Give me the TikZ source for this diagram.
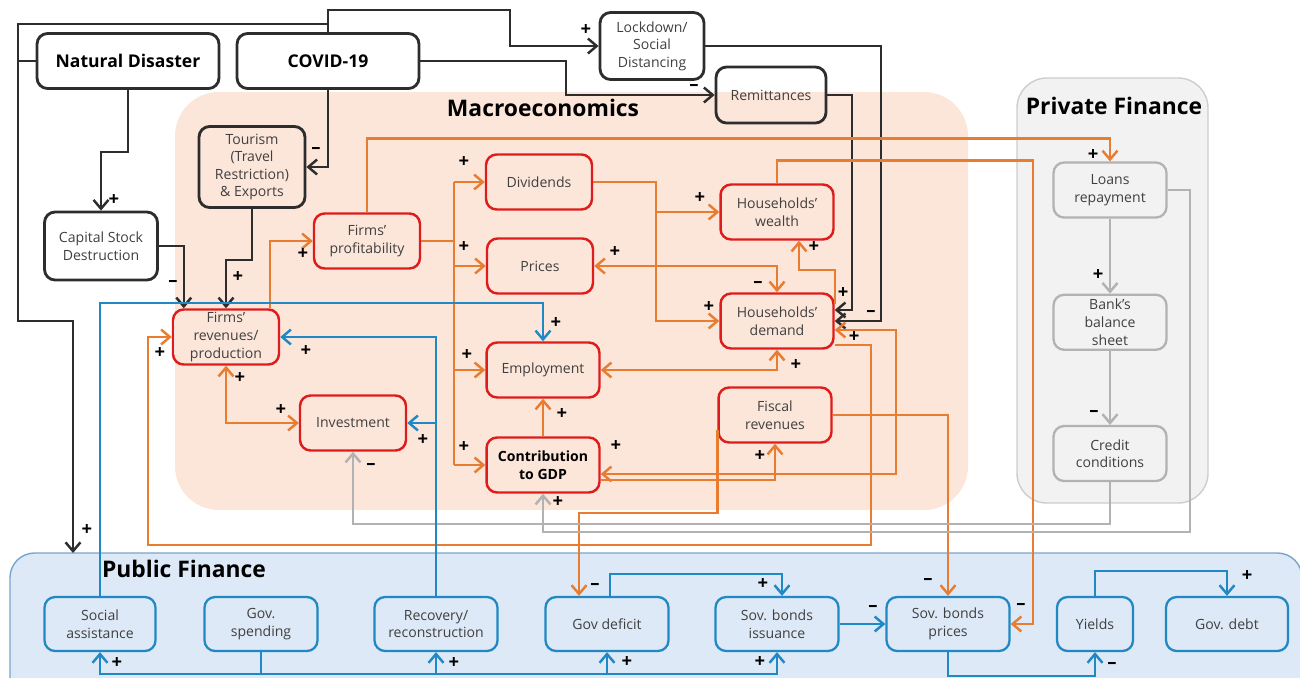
\documentclass[tikz,border=0pt]{standalone}
\usepackage{fontspec}
\setmainfont{Open Sans}
\usetikzlibrary{positioning, calc, arrows.meta}
\definecolor{cdInk}{RGB}{45,45,45}
\definecolor{cdText}{RGB}{64,64,64}
\definecolor{cdOrange}{RGB}{232,125,50}
\definecolor{cdRed}{RGB}{222,28,28}
\definecolor{cdBlue}{RGB}{32,136,196}
\definecolor{cdGrey}{RGB}{178,178,178}
\definecolor{cdPeach}{RGB}{252,230,218}
\definecolor{cdSky}{RGB}{221,233,246}
\definecolor{cdSkyLine}{RGB}{120,165,205}
\definecolor{cdMist}{RGB}{242,242,242}
\definecolor{cdMistLine}{RGB}{205,205,205}

\begin{document}
\begin{tikzpicture}[x=0.02cm, y=-0.02cm,
        cell/.style={rounded corners=6pt, align=center, inner sep=1pt, text=cdText, font=\fontsize{8}{10}\selectfont, minimum height=1.1cm},
        ext/.style={cell, draw=cdInk, line width=1.6pt},
        mac/.style={cell, draw=cdRed, line width=1.4pt, minimum width=2.12cm},
        pri/.style={cell, draw=cdGrey, line width=1.3pt, minimum width=2.26cm},
        pub/.style={cell, draw=cdBlue, line width=1.3pt, minimum width=2.46cm, minimum height=1.08cm},
        ttl/.style={font=\bfseries\fontsize{13}{15}\selectfont, inner sep=0pt},
        sg/.style={font=\bfseries\fontsize{10.5}{10.5}\selectfont, inner sep=0pt},
        bk/.style={draw=cdInk, line width=1.4pt},
        ba/.style={bk, -{Straight Barb[length=5pt,width=8.5pt]}},
        ol/.style={draw=cdOrange, line width=1.4pt},
        oa/.style={ol, -{Straight Barb[length=5pt,width=8.5pt]}},
        ob/.style={ol, {Straight Barb[length=5pt,width=8.5pt]}-{Straight Barb[length=5pt,width=8.5pt]}},
        ga/.style={draw=cdGrey, line width=1.4pt, -{Straight Barb[length=5pt,width=8.5pt]}},
        bl/.style={draw=cdBlue, line width=1.4pt},
        pa/.style={bl, -{Straight Barb[length=5pt,width=8.5pt]}}
      ]
        \useasboundingbox (0,0) rectangle (1300,677);
        \fill[cdPeach, rounded corners=25pt] (175,92) rectangle (968,510);
        \draw[cdMistLine, fill=cdMist, line width=0.8pt, rounded corners=17pt] (1017,78) rectangle (1208,503);
        \draw[cdSkyLine, fill=cdSky, line width=0.8pt, rounded corners=14pt] (10,553) rectangle (1302,705);

        \node[ttl] (tmac) at (543,108) {Macroeconomics};
        \node[ttl] (tpri) at (1114,106) {Private Finance};
        \node[ttl] (tpub) at (184,569) {Public Finance};

        \node[ext, minimum width=3.64cm, text=black, font=\bfseries\fontsize{10}{12}\selectfont] (natdis) at (128,61) {Natural Disaster};
        \node[ext, minimum width=3.64cm, text=black, font=\bfseries\fontsize{10}{12}\selectfont] (covid) at (328,61) {COVID-19};
        \node[ext, minimum width=2.08cm, minimum height=1.34cm] (lock) at (652,46) {Lockdown/\\Social\\Distancing};
        \node[ext, minimum width=2.2cm, minimum height=1.12cm] (remit) at (771,95) {Remittances};
        \node[ext, minimum width=2.12cm, minimum height=1.62cm] (tour) at (252,167) {Tourism\\(Travel\\Restriction)\\\& Exports};
        \node[ext, minimum width=2.26cm, minimum height=1.36cm] (capst) at (101,246) {Capital Stock\\Destruction};

        \node[mac] (rev) at (226,337) {Firms’\\revenues/\\production};
        \node[mac] (prof) at (367,241) {Firms’\\profitability};
        \node[mac] (div) at (539,182) {Dividends};
        \node[mac] (prices) at (540,266) {Prices};
        \node[mac, minimum width=2.26cm] (empl) at (543,370) {Employment};
        \node[mac, minimum width=2.26cm, font=\bfseries\fontsize{8}{10}\selectfont, text=black] (gdp) at (543,465) {Contribution\\to GDP};
        \node[mac] (inv) at (353,423) {Investment};
        \node[mac, minimum width=2.26cm] (hwea) at (777,212) {Households’\\wealth};
        \node[mac, minimum width=2.26cm] (hdem) at (777,321) {Households’\\demand};
        \node[mac, minimum width=2.26cm] (fisc) at (775,415) {Fiscal\\revenues};

        \node[pri] (loans) at (1110,190) {Loans\\repayment};
        \node[pri, below=1.5cm of loans] (bank) {Bank’s\\balance\\sheet};
        \node[pri, below=1.48cm of bank] (credit) {Credit\\conditions};

        \node[pub, minimum width=2.22cm] (social) at (100,624) {Social\\assistance};
        \node[pub, minimum width=2.26cm] (gspend) at (261,624) {Gov.\\spending};
        \node[pub] (recov) at (436,624) {Recovery/\\reconstruction};
        \node[pub] (defi) at (607,624) {Gov deficit};
        \node[pub] (issue) at (777,624) {Sov. bonds\\issuance};
        \node[pub] (bprice) at (948,624) {Sov. bonds\\prices};
        \node[pub, minimum width=1.52cm] (yields) at (1095,624) {Yields};
        \node[pub, minimum width=2.44cm] (gdebt) at (1227,624) {Gov. debt};

        \coordinate (pfin) at (73,553);
        \coordinate (bus) at (454,0);

        \draw[ba] (covid.north) |- (18,24) -- (18,321) -| (pfin);
        \draw[bk] (natdis.west) -- (18,61);
        \draw[ba] (covid.north) |- (510,10) |- (lock.west);
        \draw[ba] (covid.east) -| (566,95) -- (remit.west);
        \draw[ba] (covid.south) |- (tour.east);
        \draw[ba] (natdis.south) -- ++(0,62) -| (capst.north);
        \draw[ba] (capst.east) -| ($(rev.north west)+(12,0)$);
        \draw[ba] (tour.south) -- ++(0,51) -| (rev.north);
        \draw[ba] (lock.east) -| (881,321) -- (hdem.east);
        \draw[ba] (remit.east) -| (852,310) -- ($(hdem.east)+(0,-11)$);

        \draw[oa] ($(rev.north)+(44,0)$) |- (prof.west);
        \draw[oa] (prof.north) -- ++(0,-74) -| (loans.north);
        \draw[ol] (prof.east) -- (prof.east -| bus);
        \draw[ol] (div.west -| bus) -- (gdp.west -| bus);
        \draw[oa] (div.west -| bus) -- (div.west);
        \draw[oa] (prices.west -| bus) -- (prices.west);
        \draw[oa] (empl.west -| bus) -- (empl.west);
        \draw[oa] (gdp.west -| bus) -- (gdp.west);
        \draw[oa] (div.east) -| (656,321) -- (hdem.west);
        \draw[oa] (656,212) -- (hwea.west);
        \draw[ob] (prices.east) -| (hdem.north);
        \draw[oa] ($(hdem.east)+(0,-17)$) |- (799,270) -- ($(hwea.south)+(22,0)$);
        \draw[oa] (hwea.north) -- ++(0,-23) -| (1033,624) -- (bprice.east);
        \draw[ob] (empl.east) -| (hdem.south);
        \draw[oa] (gdp.north) -- (empl.south);
        \draw[ob] (rev.south) |- (inv.west);
        \draw[oa] ($(gdp.east)+(0,15)$) -| (fisc.south);
        \draw[ob] ($(gdp.east)+(0,9)$) -| (896,330) -- ($(hdem.east)+(0,9)$);
        \draw[oa] ($(hdem.east)+(0,24)$) -| (871,545) -| (148,337) -- (rev.west);
        \draw[oa] (fisc.east) -| (bprice.north);
        \draw[oa] ($(fisc.west)+(0,15)$) |- (579,513) -- ($(defi.north)+(-28,0)$);

        \draw[ga] (loans) -- (bank);
        \draw[ga] (bank) -- (credit);
        \draw[ga] (credit.south) -- ++(0,42) -| (inv.south);
        \draw[ga] (loans.east) -| (1190,532) -| (gdp.south);

        \draw[pa] (social.north) |- (543,303) -- (empl.north);
        \draw[pa] (recov.north) |- (rev.east);
        \draw[pa] (436,423) -- (inv.east);
        \draw[pa] ($(defi.north)+(3,0)$) -- ++(0,-22) -| ($(issue.north)+(5,0)$);
        \draw[pa] (issue) -- (bprice);
        \draw[pa] (bprice.south) -- ++(0,24) -| (yields.south);
        \draw[pa] (yields.north) -- ++(0,-25) -| (gdebt.north);
        \draw[pa] (gspend.south) |- ($(social.south)+(0,22)$) -- (social.south);
        \draw[pa] (gspend.south) |- ($(recov.south)+(0,22)$) -- (recov.south);
        \draw[pa] (gspend.south) |- ($(defi.south)+(0,22)$) -- (defi.south);
        \draw[pa] (gspend.south) |- ($(issue.south)+(0,22)$) -- (issue.south);

        \node[sg] (s1) at (114,200) {+};
        \node[sg] (s2) at (316,150) {–};
        \node[sg] (s3) at (586,30) {+};
        \node[sg] (s4) at (694,87) {–};
        \node[sg] (s5) at (173,283) {–};
        \node[sg] (s6) at (238,277) {+};
        \node[sg] (s7) at (87,530) {+};
        \node[sg] (s8) at (843,293) {+};
        \node[sg] (s9) at (871,313) {–};
        \node[sg] (s10) at (303,254) {+};
        \node[sg] (s11) at (1093,155) {+};
        \node[sg] (s12) at (464,162) {+};
        \node[sg] (s13) at (464,247) {+};
        \node[sg] (s14) at (467,355) {+};
        \node[sg] (s15) at (464,447) {+};
        \node[sg] (s16) at (700,198) {+};
        \node[sg] (s17) at (709,307) {+};
        \node[sg] (s18) at (615,252) {+};
        \node[sg] (s19) at (758,284) {–};
        \node[sg] (s20) at (814,247) {+};
        \node[sg] (s21) at (796,365) {+};
        \node[sg] (s22) at (562,414) {+};
        \node[sg] (s23) at (240,378) {+};
        \node[sg] (s24) at (281,410) {+};
        \node[sg] (s25) at (760,456) {+};
        \node[sg] (s26) at (616,446) {+};
        \node[sg] (s27) at (854,337) {+};
        \node[sg] (s28) at (160,353) {+};
        \node[sg] (s29) at (928,581) {–};
        \node[sg] (s30) at (1021,606) {–};
        \node[sg] (s31) at (595,586) {–};
        \node[sg] (s32) at (1098,275) {+};
        \node[sg] (s33) at (1094,413) {–};
        \node[sg] (s34) at (371,466) {–};
        \node[sg] (s35) at (558,502) {+};
        \node[sg] (s36) at (556,323) {+};
        \node[sg] (s37) at (306,351) {+};
        \node[sg] (s38) at (423,440) {+};
        \node[sg] (s39) at (763,584) {+};
        \node[sg] (s40) at (873,608) {–};
        \node[sg] (s41) at (1112,665) {–};
        \node[sg] (s42) at (1247,576) {+};
        \node[sg] (s43) at (117,663) {+};
        \node[sg] (s44) at (454,663) {+};
        \node[sg] (s45) at (627,662) {+};
        \node[sg] (s46) at (760,662) {+};
      \end{tikzpicture}
\end{document}
